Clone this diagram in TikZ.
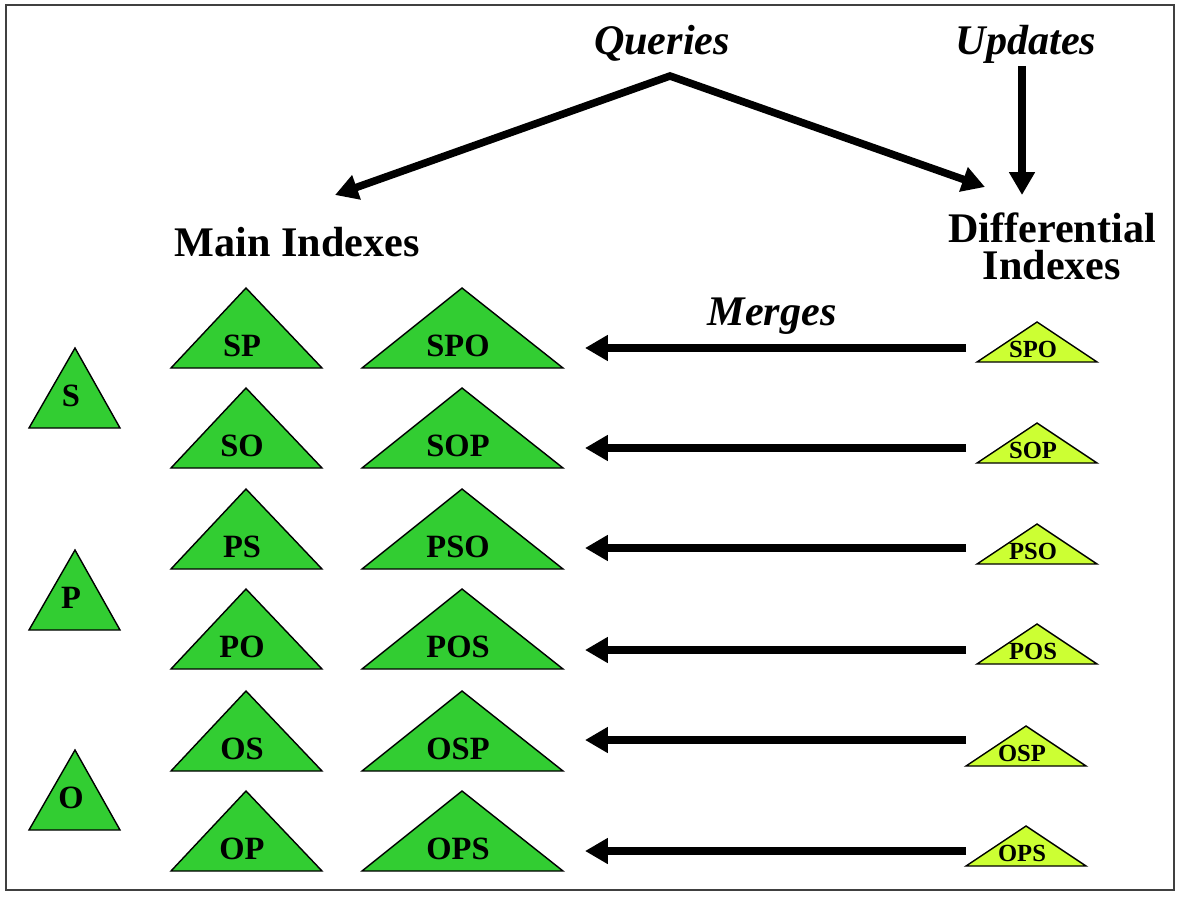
\documentclass[tikz,border=0pt]{standalone}
\usepackage{fontspec}
\setmainfont{Liberation Serif}
\usetikzlibrary{arrows.meta,positioning}
\definecolor{idxgreen}{RGB}{50,205,50}
\definecolor{difflime}{RGB}{204,255,51}

\begin{document}
\begin{tikzpicture}[x=0.02cm, y=-0.02cm,
  >={Triangle[length=13pt, width=14pt]},
  maintri/.style={draw=black, fill=idxgreen, line width=0.8pt},
  difftri/.style={draw=black, fill=difflime, line width=0.8pt},
  lbl/.style={font=\bfseries\fontsize{18.5}{18}\selectfont, inner sep=0pt},
  difflbl/.style={font=\bfseries\fontsize{14}{14}\selectfont, inner sep=0pt},
  heading/.style={font=\bfseries\fontsize{24}{20.5}\selectfont, align=center,
                  inner sep=0pt, anchor=base},
  slanted/.style={heading, font=\bfseries\itshape\fontsize{24}{20}\selectfont},
  flow/.style={line width=4.3pt, ->}]
  \useasboundingbox (0,0) rectangle (1182,898);
  \draw[black!75, line width=0.8pt] (6,5) rectangle (1174,890);
  % headings
  \node[slanted] (queries) at (662,55) {Queries};
  \node[slanted] (updates) at (1026,55) {Updates};
  \node[heading] (mainidx) at (297,256) {Main Indexes};
  \node[heading] (diffidx) at (1052,279) {Differential\\Indexes};
  \node[slanted] (merges) at (772,325) {Merges};
  % arrows from queries and updates
  \coordinate (qfork)  at (670,76);
  \coordinate (mainin) at (335,195);
  \coordinate (diffin) at (985,187);
  \coordinate (updout) at (1022,66);
  \coordinate (diffup) at (1022,195);
  \draw[flow, <->, line join=miter] (mainin) -- (qfork) -- (diffin);
  \draw[flow] (updout) -- (diffup);
  % single-position indexes
  \foreach \one/\by [count=\i] in {S/428, P/630, O/830} {
    \draw[maintri] (29,\by) -- (75,\by-80) -- (120,\by) -- cycle;
    \node[lbl] (single\i) at (71,\by-32) {\one};
  }
  % main indexes, differential indexes and merges
  \foreach \pair/\trip/\by/\dy/\ay/\dx [count=\i] in
      {SP/SPO/368/362/348/977, SO/SOP/468/463/448/977,
       PS/PSO/569/564/548/977, PO/POS/669/664/650/977,
       OS/OSP/771/766/740/966, OP/OPS/871/866/851/966} {
    \draw[maintri] (171,\by) -- (246,\by-80) -- (322,\by) -- cycle;
    \node[lbl] (pair\i) at (242,\by-22) {\pair};
    \draw[maintri] (362,\by) -- (462,\by-80) -- (563,\by) -- cycle;
    \node[lbl] (trip\i) at (458,\by-22) {\trip};
    \draw[difftri] (\dx,\dy) -- (\dx+60,\dy-40) -- (\dx+120,\dy) -- cycle;
    \node[difflbl] (diff\i) at (\dx+56,\dy-13) {\trip};
    \coordinate (src\i) at (966,\ay);
    \coordinate (mrg\i) at (585,\ay);
    \draw[flow] (src\i) -- (mrg\i);
  }
\end{tikzpicture}
\end{document}
